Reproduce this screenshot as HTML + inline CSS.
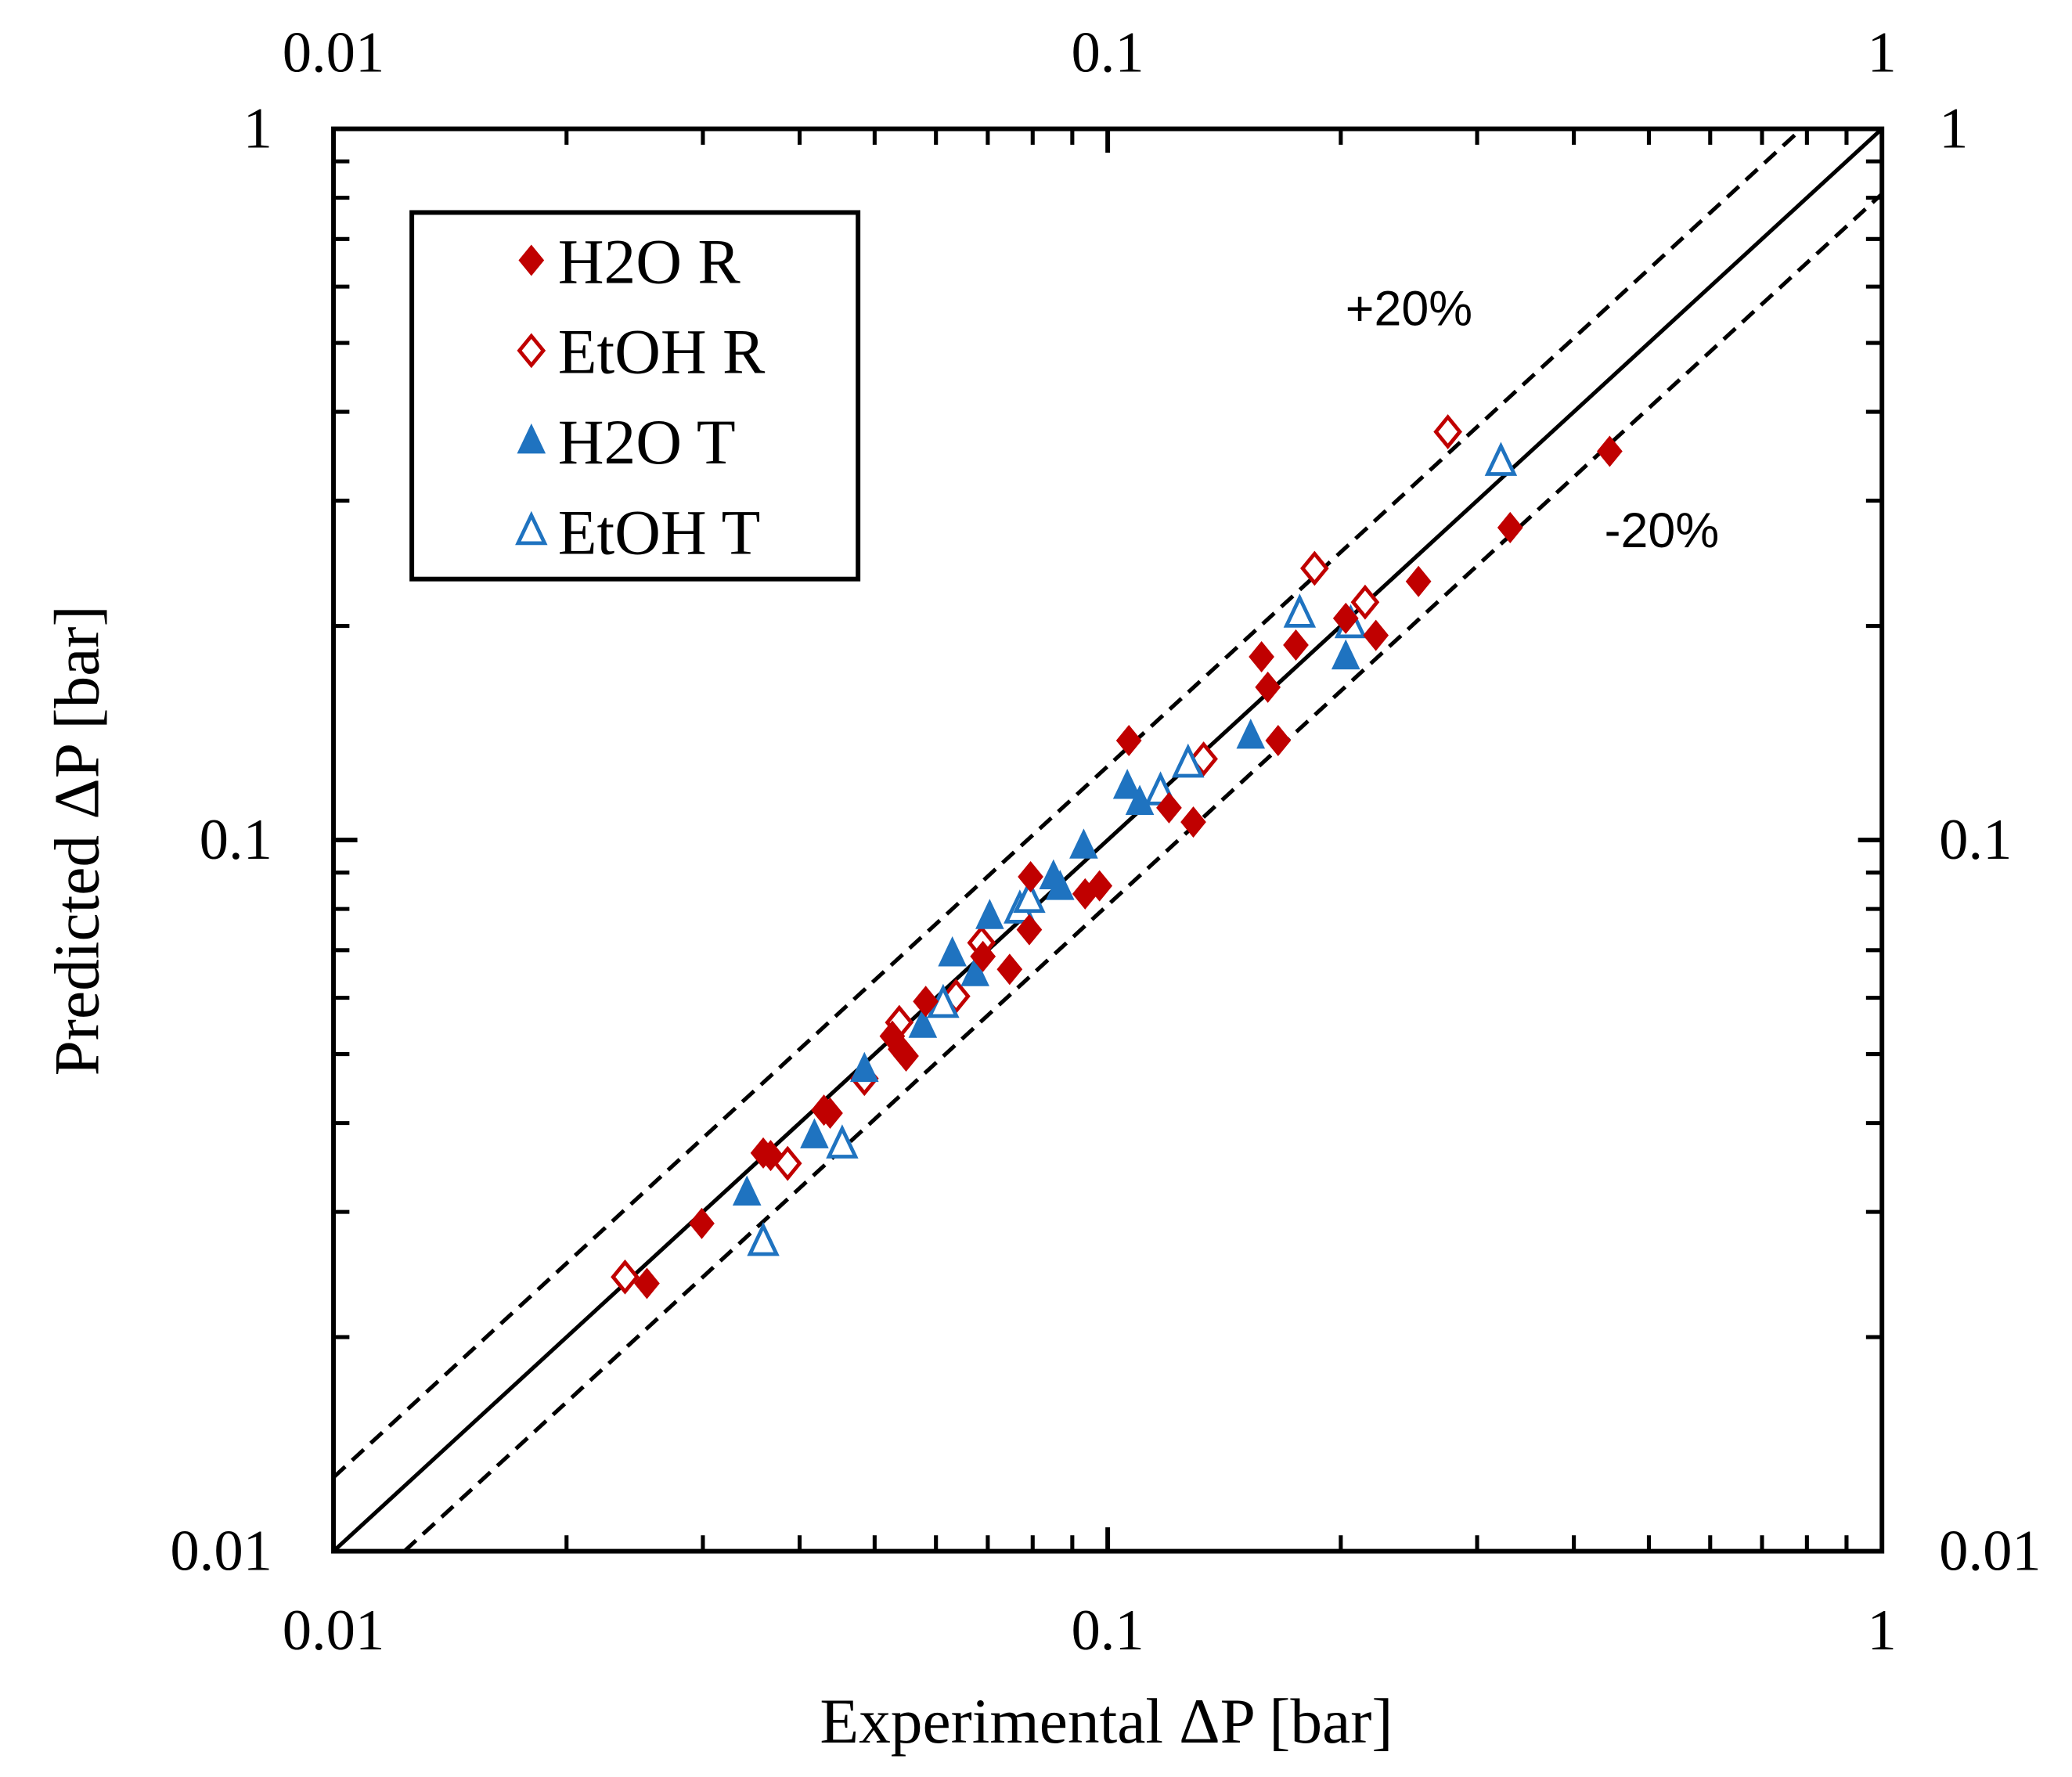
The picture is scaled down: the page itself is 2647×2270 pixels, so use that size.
<!DOCTYPE html>
<html><head><meta charset="utf-8"><style>
html,body{margin:0;padding:0;background:#fff}
svg{display:block}
text{font-family:"Liberation Serif",serif;fill:#000}
</style></head><body>
<svg id="chart" width="2647" height="2270" viewBox="0 0 1560 1338" xmlns="http://www.w3.org/2000/svg">
<g id="grid"></g>
<g id="marks"></g>
</svg>
<script>
const expH2OR=[0.0254,0.0299,0.0359,0.0367,0.0430,0.0438,0.0527,0.0540,0.0549,0.0582,0.0690,0.0747,0.0792,0.0795,0.0935,0.0976,0.1065,0.120,0.129,0.158,0.161,0.166,0.175,0.203,0.222,0.252,0.331,0.445];
const predH2OR=[0.0238,0.0289,0.0363,0.0360,0.0417,0.0413,0.0530,0.0508,0.0497,0.0593,0.0686,0.0658,0.0748,0.0888,0.0840,0.0862,0.138,0.111,0.106,0.181,0.164,0.138,0.188,0.205,0.194,0.231,0.275,0.352];
const expEtOHR=[0.0238,0.0386,0.0485,0.0538,0.0637,0.0687,0.133,0.185,0.215,0.275];
const predEtOHR=[0.0243,0.0351,0.0462,0.0554,0.0603,0.0717,0.130,0.241,0.216,0.375];
const expH2OT=[0.0342,0.0418,0.0485,0.0577,0.0630,0.0674,0.0704,0.0851,0.0868,0.0931,0.106,0.110,0.153,0.203];
const predH2OT=[0.0319,0.0384,0.0476,0.0549,0.0692,0.0649,0.0781,0.0888,0.0858,0.0981,0.119,0.113,0.140,0.181];
const expEtOHT=[0.0359,0.0454,0.0613,0.0770,0.0792,0.117,0.127,0.177,0.206,0.322];
const predEtOHT=[0.0272,0.0373,0.0588,0.0798,0.0826,0.117,0.128,0.208,0.201,0.340];
const majorTicks=[0.01,0.1,1];
const tickLabels=["0.01","0.1","1"];
const upperBand=1.27, lowerBand=0.81;

const NS="http://www.w3.org/2000/svg";
const X0=251,X1=1417,Y0=97,Y1=1168;
const sx=v=>X0+(Math.log10(v)+2)/2*(X1-X0);
const sy=v=>Y1-(Math.log10(v)+2)/2*(Y1-Y0);
const svg=document.getElementById('chart');
const G=document.getElementById('grid'),M=document.getElementById('marks');
function mk(tag,attrs,parent){const e=document.createElementNS(NS,tag);for(const k in attrs)e.setAttribute(k,attrs[k]);(parent||G).appendChild(e);return e;}

const frame=mk('rect',{x:X0,y:Y0,width:X1-X0,height:Y1-Y0,fill:'none',stroke:'#000','stroke-width':3.5});



for(let d=-2;d<0;d++){for(let m=2;m<=9;m++){const v=m*Math.pow(10,d);
 const x=sx(v),y=sy(v);
 const t1=mk('line',{x1:x,x2:x,y1:Y1,y2:Y1-12,stroke:'#000','stroke-width':3});
 
 
 const t2=mk('line',{x1:x,x2:x,y1:Y0,y2:Y0+12,stroke:'#000','stroke-width':3});
 
 
 const t3=mk('line',{x1:X0,x2:X0+12,y1:y,y2:y,stroke:'#000','stroke-width':3});
 
 
 const t4=mk('line',{x1:X1,x2:X1-12,y1:y,y2:y,stroke:'#000','stroke-width':3});
 
 
}}
majorTicks.forEach((v,i)=>{
 const x=sx(v),y=sy(v);
 if(i===1){
  const a=mk('line',{x1:x,x2:x,y1:Y1,y2:Y1-18,stroke:'#000','stroke-width':3.5});
  
  
  const b=mk('line',{x1:x,x2:x,y1:Y0,y2:Y0+18,stroke:'#000','stroke-width':3.5});
  
  
  const c=mk('line',{x1:X0,x2:X0+18,y1:y,y2:y,stroke:'#000','stroke-width':3.5});
  
  
  const d=mk('line',{x1:X1,x2:X1-18,y1:y,y2:y,stroke:'#000','stroke-width':3.5});
  
  
 }
 const lb=mk('text',{x:x,y:1242,'text-anchor':'middle','font-size':44});lb.textContent=tickLabels[i];
 
 
 const lt=mk('text',{x:x,y:54,'text-anchor':'middle','font-size':44});lt.textContent=tickLabels[i];
 
 
 const ll=mk('text',{x:205,y:y+14,'text-anchor':'end','font-size':44});ll.textContent=tickLabels[i];
 
 
 const lr=mk('text',{x:1460,y:y+14,'text-anchor':'start','font-size':44});lr.textContent=tickLabels[i];
 
 
});

const clipR=mk('clipPath',{id:'pc'});mk('rect',{x:X0,y:Y0,width:X1-X0,height:Y1-Y0},clipR);
const ref=mk('line',{x1:sx(0.01),y1:sy(0.01),x2:sx(1),y2:sy(1),stroke:'#000','stroke-width':3,'clip-path':'url(#pc)'});


const up=mk('line',{x1:sx(0.01),y1:sy(0.01*upperBand),x2:sx(1/upperBand),y2:sy(1),stroke:'#000','stroke-width':3,'stroke-dasharray':'12,7','clip-path':'url(#pc)'});


const lo=mk('line',{x1:sx(0.01/lowerBand),y1:sy(0.01),x2:sx(1),y2:sy(lowerBand),stroke:'#000','stroke-width':3,'stroke-dasharray':'12,7','clip-path':'url(#pc)'});



const p20=mk('text',{x:1013,y:245,'font-size':37,style:'font-family:"Liberation Sans",sans-serif'});p20.textContent='+20%';


const m20=mk('text',{x:1208,y:412,'font-size':37,style:'font-family:"Liberation Sans",sans-serif'});m20.textContent='-20%';



const xt=mk('text',{x:833,y:1312,'text-anchor':'middle','font-size':48});xt.textContent='Experimental ΔP [bar]';


const yt=mk('text',{x:0,y:0,'text-anchor':'middle','font-size':48,transform:'translate(74,633) rotate(-90)'});yt.textContent='Predicted ΔP [bar]';



const RED='#c00000',BLUE='#1f73c0';
function diamond(cx,cy,filled,parent){return mk('path',{d:`M${cx},${cy-11}L${cx+9},${cy}L${cx},${cy+11}L${cx-9},${cy}Z`,fill:filled?RED:'#fff',stroke:RED,'stroke-width':filled?1:2.8},parent);}
function tri(cx,cy,filled,parent){return mk('path',{d:`M${cx},${cy-12}L${cx+10},${cy+9}L${cx-10},${cy+9}Z`,fill:filled?BLUE:'#fff',stroke:BLUE,'stroke-width':filled?1:2.8},parent);}
expEtOHR.forEach((v,i)=>{const e=diamond(sx(v),sy(predEtOHR[i]),false,M);
 
 });
expEtOHT.forEach((v,i)=>{const e=tri(sx(v),sy(predEtOHT[i]),false,M);
 
 });
expH2OT.forEach((v,i)=>{const e=tri(sx(v),sy(predH2OT[i]),true,M);
 
 });
expH2OR.forEach((v,i)=>{const e=diamond(sx(v),sy(predH2OR[i]),true,M);
 
 });

const lg=mk('g',{},svg);


mk('rect',{x:310,y:160,width:336,height:276,fill:'#fff',stroke:'#000','stroke-width':3.5},lg);
const entries=[['H2O R',diamond,true],['EtOH R',diamond,false],['H2O T',tri,true],['EtOH T',tri,false]];
entries.forEach((en,i)=>{const cy=196+i*68;
 const g=mk('g',{},lg);
 
 
 en[1](400,cy,en[2],g);
 const t=mk('text',{x:420,y:cy+17,'font-size':48},g);t.textContent=en[0];
});
</script>
</body></html>
